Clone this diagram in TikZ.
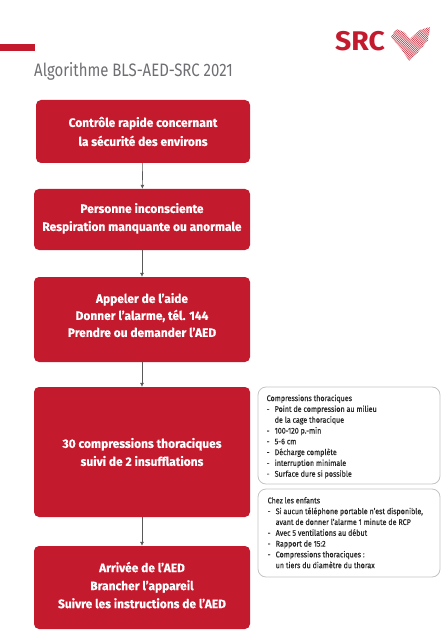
\documentclass[tikz,border=0pt]{standalone}
\usepackage{fontspec}
\setmainfont{Fira Sans}[FakeStretch=0.98,FakeBold=0.3]
\newfontfamily\titlefont{Fira Sans}[FakeStretch=0.83]
\newfontfamily\sidefont{Fira Sans}[FakeStretch=0.87,FakeBold=0.2]
\newfontfamily\logofont{Fira Sans}[FakeStretch=1.05]
\usetikzlibrary{arrows.meta}
\definecolor{srcred}{HTML}{C41A2D}
\definecolor{srcgray}{HTML}{6E6E73}
\definecolor{sideline}{HTML}{C4C4C4}
\newcommand{\dashitem}{\makebox[8pt][l]{-}}
\newcommand{\dashcont}{\hspace*{8pt}}
\begin{document}
\begin{tikzpicture}
	[x=1pt,y=-1pt,
	stepbox/.style={fill=srcred,rounded corners=5pt,text=white,font=\bfseries\fontsize{12.2}{18}\selectfont,align=center,inner sep=0pt},
	sidebox/.style={draw=sideline,line width=.8pt,fill=white,rounded corners=8pt},
	sidetext/.style={anchor=north west,align=left,inner sep=0pt,text=black!85,font=\sidefont\fontsize{8.2}{10.8}\selectfont},
	flow/.style={draw=black!65,line width=.6pt,-{Latex[length=4pt,width=4pt]}}]
	\useasboundingbox (0,0) rectangle (445,636);
	
	\fill[srcred] (0,44) rectangle (35,51);
	\node[anchor=west,inner sep=0pt,text=srcgray,font=\titlefont\fontsize{18}{20}\selectfont] (title) at (34,71) {Algorithme BLS-AED-SRC 2021};
	\node[anchor=west,inner sep=0pt,text=srcred,font=\logofont\bfseries\fontsize{27}{30}\selectfont] (logo) at (335,41) {SRC};
	
	% heart of the logo
	\begin{scope}
		\clip (391,37) -- (396,29) -- (404,32) -- (410,39) -- (420,30) -- (430,27) -- (428,40) -- (418,52) -- (409,61) -- (402,50) -- cycle;
		\foreach \k in {0,1.8,...,62}
		\draw[srcred,line width=.45pt] (385,40+\k) -- (435,\k-2);
	\end{scope}
	
	\node[stepbox,minimum width=214pt,minimum height=63pt,font=\bfseries\fontsize{12.2}{19}\selectfont] (n1) at (143,131.5) {Contrôle rapide concernant\\la sécurité des environs};
	\node[stepbox,minimum width=216pt,minimum height=61pt,text depth=5pt] (n2) at (142,219.5) {Personne inconsciente\\Respiration manquante ou anormale};
	\node[stepbox,minimum width=216pt,minimum height=85pt,font=\bfseries\fontsize{12.2}{17}\selectfont,text depth=9pt] (n3) at (142,319.5) {Appeler de l’aide\\Donner l’alarme, tél. 144\\Prendre ou demander l’AED};
	\node[stepbox,minimum width=216pt,minimum height=130pt] (n4) at (142,452) {30 compressions thoraciques\\suivi de 2 insufflations};
	\node[stepbox,minimum width=216pt,minimum height=83pt,text depth=5pt] (n5) at (142,587.5) {Arrivée de l’AED\\Brancher l’appareil\\Suivre les instructions de l’AED};
	
	\foreach \from/\to in {n1/n2,n2/n3,n3/n4,n4/n5}
	\draw[flow] (\from) -- (\to);
	
	\node[sidebox,minimum width=182pt,minimum height=97pt] (s1) at (349,435.5) {};
	\node[sidebox,minimum width=182pt,minimum height=88pt] (s2) at (349,533) {};
	
	\node[sidetext] (t1) at (266.5,394.5) {Compressions thoraciques\\
		\dashitem Point de compression au milieu\\
		\dashcont de la cage thoracique\\
		\dashitem 100-120 p.-min\\
		\dashitem 5-6 cm\\
		\dashitem Décharge complète\\
		\dashitem interruption minimale\\
		\dashitem Surface dure si possible};
	\node[sidetext] (t2) at (267.5,497) {Chez les enfants\\
		\dashitem Si aucun téléphone portable n’est disponible,\\
		\dashcont avant de donner l’alarme 1 minute de RCP\\
		\dashitem Avec 5 ventilations au début\\
		\dashitem Rapport de 15:2\\
		\dashitem Compressions thoraciques :\\
		\dashcont un tiers du diamètre du thorax};
\end{tikzpicture}
\end{document}
